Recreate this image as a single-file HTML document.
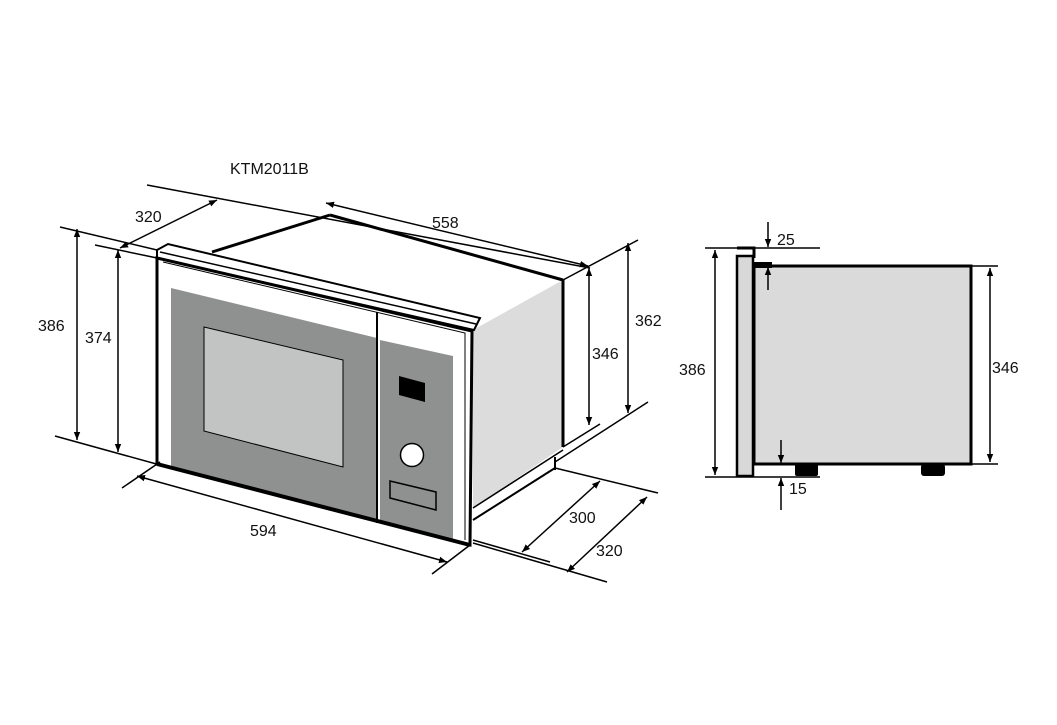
<!DOCTYPE html>
<html><head><meta charset="utf-8"><style>
html,body{margin:0;padding:0;background:#fff;}
svg{display:block;}
text{font-family:"Liberation Sans","DejaVu Sans",sans-serif;font-size:16px;fill:#111;}
</style></head><body>
<svg width="1057" height="725" viewBox="0 0 1057 725" xmlns="http://www.w3.org/2000/svg">
<defs>
<marker id="a" viewBox="0 0 10 10" refX="10" refY="5" markerWidth="8" markerHeight="8" orient="auto-start-reverse" markerUnits="userSpaceOnUse"><path d="M0,1 L10,5 L0,9 z" fill="#000"/></marker>
</defs>
<text x="230" y="174">KTM2011B</text>

<!-- top face -->
<polygon points="212,252 330,215 563,280 472,318" fill="#fff"/>
<line x1="212" y1="252" x2="330" y2="215" stroke="#000" stroke-width="3"/>
<line x1="330" y1="215" x2="563" y2="280" stroke="#000" stroke-width="3"/>
<!-- side face -->
<polygon points="473,330 563,280 563,447 473,508" fill="#dcdcdc"/>
<line x1="563" y1="280" x2="563" y2="447" stroke="#000" stroke-width="3"/>
<line x1="473" y1="520" x2="555" y2="468" stroke="#000" stroke-width="2"/>
<line x1="555" y1="457" x2="555" y2="470" stroke="#000" stroke-width="2"/>
<line x1="473" y1="508" x2="563" y2="450" stroke="#000" stroke-width="1.5"/>

<!-- lip on top of frame -->
<polygon points="157,250 168,244 480,318 474,330 157,258" fill="#fff" stroke="#000" stroke-width="2"/>
<line x1="160" y1="252" x2="476" y2="324" stroke="#000" stroke-width="1.5"/>

<!-- front frame -->
<polygon points="157,258 472,331 470,545 157,464" fill="#fff" stroke="#000" stroke-width="3"/>
<polyline points="163,262 465,333 465,540" fill="none" stroke="#000" stroke-width="1"/>
<!-- door gray -->
<polygon points="171,288 377,338 377,522 171,466" fill="#8f9190"/>
<!-- window -->
<polygon points="204,327 343,360 343,467 204,431" fill="#c2c3c3" stroke="#000" stroke-width="1"/>
<!-- control divider -->
<line x1="377" y1="312" x2="377" y2="523" stroke="#000" stroke-width="2"/>
<!-- control gray -->
<polygon points="380,340 453,356 453,542 380,523" fill="#8f9190"/>
<polygon points="399,376 425,383 425,402 399,395" fill="#000"/>
<circle cx="412" cy="455" r="11.5" fill="#fff" stroke="#000" stroke-width="1.5"/>
<polygon points="390,481 436,492 436,510 390,498" fill="none" stroke="#000" stroke-width="1.5"/>
<line x1="157" y1="464" x2="470" y2="545" stroke="#000" stroke-width="4"/>

<!-- dimension lines 3D -->
<g stroke="#000" stroke-width="1.5" fill="none">
<line x1="147" y1="185" x2="590" y2="268"/>
<line x1="95" y1="245" x2="157" y2="258"/>
<line x1="60" y1="227" x2="157" y2="250"/>
<line x1="120" y1="248" x2="217" y2="200" marker-start="url(#a)" marker-end="url(#a)"/>
<line x1="326" y1="203" x2="588" y2="266" marker-start="url(#a)" marker-end="url(#a)"/>
<line x1="77" y1="229" x2="77" y2="440" marker-start="url(#a)" marker-end="url(#a)"/>
<line x1="118" y1="250" x2="118" y2="452" marker-start="url(#a)" marker-end="url(#a)"/>
<line x1="55" y1="436" x2="160" y2="465"/>
<line x1="122" y1="488" x2="160" y2="462"/>
<line x1="432" y1="574" x2="470" y2="545"/>
<line x1="137" y1="476" x2="447" y2="562" marker-start="url(#a)" marker-end="url(#a)"/>
<line x1="563" y1="280" x2="638" y2="240"/>
<line x1="563" y1="447" x2="600" y2="424"/>
<line x1="555" y1="462" x2="648" y2="402"/>
<line x1="589" y1="268" x2="589" y2="425" marker-start="url(#a)" marker-end="url(#a)"/>
<line x1="628" y1="243" x2="628" y2="413" marker-start="url(#a)" marker-end="url(#a)"/>
<line x1="555" y1="468" x2="658" y2="493"/>
<line x1="473" y1="540" x2="550" y2="562"/>
<line x1="473" y1="543" x2="607" y2="582"/>
<line x1="522" y1="552" x2="600" y2="481" marker-start="url(#a)" marker-end="url(#a)"/>
<line x1="567" y1="572" x2="647" y2="497" marker-start="url(#a)" marker-end="url(#a)"/>
</g>
<text x="135" y="222">320</text>
<text x="432" y="228">558</text>
<text x="38" y="331">386</text>
<text x="85" y="343">374</text>
<text x="250" y="536">594</text>
<text x="592" y="359">346</text>
<text x="635" y="326">362</text>
<text x="569" y="523">300</text>
<text x="596" y="556">320</text>

<!-- side view -->
<rect x="754" y="266" width="217" height="198" fill="#dadada" stroke="#000" stroke-width="3"/>
<rect x="737" y="256" width="16" height="220" fill="#d8d8d8" stroke="#000" stroke-width="2.5"/>
<polyline points="737,248 754,248 754,258" fill="none" stroke="#000" stroke-width="3"/>
<rect x="754" y="262" width="18" height="6" fill="#000"/>
<rect x="795" y="464" width="23" height="12" rx="2" fill="#000"/>
<rect x="921" y="464" width="24" height="12" rx="3" fill="#000"/>
<g stroke="#000" stroke-width="1.5" fill="none">
<line x1="705" y1="248" x2="820" y2="248"/>
<line x1="705" y1="477" x2="820" y2="477"/>
<line x1="754" y1="464" x2="760" y2="464"/>
<line x1="971" y1="266" x2="998" y2="266"/>
<line x1="971" y1="464" x2="998" y2="464"/>
<line x1="715" y1="250" x2="715" y2="475" marker-start="url(#a)" marker-end="url(#a)"/>
<line x1="990" y1="268" x2="990" y2="462" marker-start="url(#a)" marker-end="url(#a)"/>
<line x1="768" y1="222" x2="768" y2="247" marker-end="url(#a)"/>
<line x1="768" y1="290" x2="768" y2="267" marker-end="url(#a)"/>
<line x1="781" y1="440" x2="781" y2="463" marker-end="url(#a)"/>
<line x1="781" y1="510" x2="781" y2="478" marker-end="url(#a)"/>
</g>
<text x="777" y="245">25</text>
<text x="679" y="375">386</text>
<text x="992" y="373">346</text>
<text x="789" y="494">15</text>
</svg>
</body></html>
